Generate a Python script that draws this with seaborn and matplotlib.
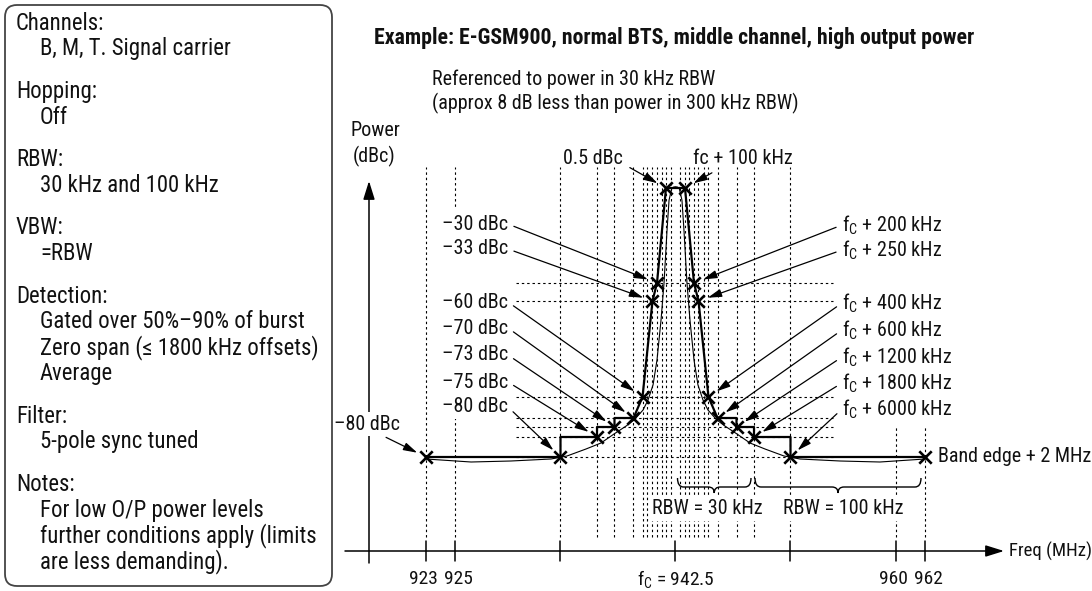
import numpy as np
import pandas as pd
import matplotlib
matplotlib.use("Agg")
import matplotlib.pyplot as plt
import seaborn as sns
from matplotlib import font_manager
from matplotlib.patches import FancyBboxPatch, PathPatch, Rectangle
from matplotlib.path import Path
from matplotlib.transforms import IdentityTransform

sns.set_theme(style="white")
_names = {f.name for f in font_manager.fontManager.ttflist}
FONT = "Liberation Sans"
for cand in ["Roboto Condensed", "Liberation Sans Narrow", "Roboto"]:
    if cand in _names:
        FONT = cand
        break
plt.rcParams["font.family"] = [FONT, "DejaVu Sans"]
plt.rcParams["mathtext.fontset"] = "custom"
plt.rcParams["mathtext.rm"] = FONT
plt.rcParams["mathtext.it"] = FONT
plt.rcParams["text.color"] = "#111111"

W, H = 1092, 591
FC = 942.5  # MHz, middle channel

# limit mask: offset from fc (kHz) and level (dBc)
MASK_KHZ = [-19500, -6000, -6000, -1800, -1800, -1200, -1200, -600, -400, -250, -200, -100,
            100, 200, 250, 400, 600, 1200, 1200, 1800, 1800, 6000, 6000, 19500]
MASK_DBC = [-80, -80, -75, -75, -73, -73, -70, -70, -60, -33, -30, 0.5,
            0.5, -30, -33, -60, -70, -70, -73, -73, -75, -75, -80, -80]

# measurement points (crosses)
MARK_KHZ = [-19500, -6000, -1800, -1200, -600, -400, -250, -200, -100,
            100, 200, 250, 400, 600, 1200, 1800, 6000, 19500]
MARK_DBC = [-80, -80, -75, -73, -70, -60, -33, -30, 0.5,
            0.5, -30, -33, -60, -70, -73, -75, -80, -80]

# typical spectrum, one side of the carrier
SPEC_KHZ = [0, 20, 40, 68, 89, 122, 155, 200, 244, 317, 392, 589, 837, 1217, 1663,
            3066, 5252, 7036, 11400, 15750, 19500]
SPEC_DBC = [0.9, 0.8, 0.3, -3.4, -13, -30, -38.3, -49.6, -56.6, -61.4, -66.2, -70.7,
            -72.7, -74.4, -76.5, -78, -79.75, -80.5, -81, -81.25, -80.5]

LEFT_LABELS = ["–30 dBc", "–33 dBc", "–60 dBc", "–70 dBc", "–73 dBc", "–75 dBc", "–80 dBc"]
LEFT_KHZ = [-200, -250, -400, -600, -1200, -1800, -6000]
LEFT_DBC = [-30, -33, -60, -70, -73, -75, -80]
RIGHT_KHZ = [200, 250, 400, 600, 1200, 1800, 6000]
RIGHT_DBC = [-30, -33, -60, -70, -73, -75, -80]
RIGHT_LABELS = [r"$\mathregular{f_C}$ + %d kHz" % k for k in RIGHT_KHZ]

GUIDE_KHZ = [50, 100, 150, 200, 250, 325, 400, 600, 1200, 1800, 6000]
LEVELS = [-30, -33, -60, -70, -73, -75, -80]
TICK_MHZ = [923, 925, 936.5, 942.5, 948.5, 960, 962]
TICK_LABELS = ["923", "925", "", r"$\mathregular{f_C}$ = 942.5", "", "960", "962"]

BOX_LINES = [("Channels:", True), ("B, M, T. Signal carrier", False),
             ("Hopping:", True), ("Off", False),
             ("RBW:", True), ("30 kHz and 100 kHz", False),
             ("VBW:", True), ("=RBW", False),
             ("Detection:", True), ("Gated over 50%–90% of burst", False),
             ("Zero span (≤ 1800 kHz offsets)", False), ("Average", False),
             ("Filter:", True), ("5-pole sync tuned", False),
             ("Notes:", True), ("For low O/P power levels", False),
             ("further conditions apply (limits", False), ("are less demanding).", False)]

# schematic (non-linear) axes: frequency offset -> pixel, dBc -> pixel
OFF_ANCHOR = np.array([0, 100, 200, 250, 400, 600, 1200, 1800, 6000, 17500, 19500, 60000])
PX_ANCHOR = np.array([0, 9.5, 18.5, 23, 33, 42, 61, 78.5, 115, 220.5, 249.5, 836.75])
CX = 675.5
DB_ANCHOR = np.array([-130, -80, -75, -73, -70, -60, -33, -30, 0.5, 70])
PY_ANCHOR = np.array([657, 457, 437, 427, 418, 397, 301, 283, 188, -28])


def fwd_x(f):
    off = (np.asarray(f, float) - FC) * 1000
    return CX + np.sign(off) * np.interp(np.abs(off), OFF_ANCHOR, PX_ANCHOR)


def inv_x(p):
    d = np.asarray(p, float) - CX
    return FC + np.sign(d) * np.interp(np.abs(d), PX_ANCHOR, OFF_ANCHOR) / 1000


def fwd_y(d):
    return -np.interp(np.asarray(d, float), DB_ANCHOR, PY_ANCHOR)


def inv_y(t):
    return np.interp(-np.asarray(t, float), PY_ANCHOR[::-1], DB_ANCHOR[::-1])


def fig_xy(x, y):
    return (x / W, 1 - y / H)


FS = 14.5

fig = plt.figure(figsize=(W / 100, H / 100), dpi=100)
ax = fig.add_axes([0, 0, 1, 1])
ax.set_xscale("function", functions=(fwd_x, inv_x))
ax.set_yscale("function", functions=(fwd_y, inv_y))

mask = pd.DataFrame({"freq": FC + np.array(MASK_KHZ) / 1000, "dbc": MASK_DBC})
marks = pd.DataFrame({"freq": FC + np.array(MARK_KHZ) / 1000, "dbc": MARK_DBC})
spec_k = np.array(SPEC_KHZ)
spec = pd.DataFrame({"freq": FC + np.concatenate([-spec_k[::-1], spec_k[1:]]) / 1000,
                     "dbc": np.concatenate([SPEC_DBC[::-1], SPEC_DBC[1:]])})

sns.lineplot(data=spec, x="freq", y="dbc", ax=ax, color="black", lw=0.8,
             sort=False, estimator=None, zorder=3)
sns.lineplot(data=mask, x="freq", y="dbc", ax=ax, color="black", lw=1.6,
             sort=False, estimator=None, zorder=3)
sns.scatterplot(data=marks, x="freq", y="dbc", ax=ax, marker="x", s=80,
                color="black", linewidth=1.9, zorder=4)

ax.set_xlim(inv_x(0), inv_x(W))
ax.set_ylim(inv_y(-H), inv_y(0))
ax.axis("off")

dot = dict(color="black", lw=0.8, ls=(0, (2.2, 2.6)), zorder=1)
for k in GUIDE_KHZ:
    for s in (-1, 1):
        ax.axvline(FC + s * k / 1000, ymin=1 - 537 / H, ymax=1 - 167 / H, **dot)
for f in TICK_MHZ[:2]:
    ax.axvline(f, ymin=1 - 537 / H, ymax=1 - 167 / H, **dot)
for f in TICK_MHZ[-2:]:
    ax.axvline(f, ymin=1 - 537 / H, ymax=1 - 425 / H, **dot)
for lv in LEVELS:
    ax.axhline(lv, xmin=516 / W, xmax=833 / W, **dot)

# white backing behind the left label column
ax.add_patch(Rectangle((440, H - 418), 73, 210, fc="white", ec="none",
                       transform=IdentityTransform(), zorder=2))

# axes arrows and ticks
axis_arrow = dict(arrowstyle="-|>,head_length=0.8,head_width=0.25", color="black",
                  lw=1.1, shrinkA=0, shrinkB=0, mutation_scale=14)
ax.annotate("", xy=fig_xy(1004, 551), xytext=fig_xy(345, 551), xycoords="figure fraction",
            textcoords="figure fraction", arrowprops=axis_arrow, zorder=2)
ax.annotate("", xy=fig_xy(369, 181), xytext=fig_xy(369, 563), xycoords="figure fraction",
            textcoords="figure fraction", arrowprops=axis_arrow, zorder=2)
tick_nudge = [-3, 3, 0, 0, 0, -3, 3]
for f, lab, dx in zip(TICK_MHZ, TICK_LABELS, tick_nudge):
    ax.axvline(f, ymin=1 - 561 / H, ymax=1 - 541 / H, color="black", lw=1.1)
    ax.annotate(lab, xy=(f, 1 - 579 / H), xycoords=ax.get_xaxis_transform(),
                xytext=(dx, 0), textcoords="offset pixels", ha="center", va="center",
                fontsize=14)
ax.text(*fig_xy(1009, 551), "Freq (MHz)", transform=fig.transFigure, ha="left",
        va="center", fontsize=13.5)
ax.text(*fig_xy(351, 130), "Power", transform=fig.transFigure, ha="left", va="center", fontsize=FS)
ax.text(*fig_xy(353, 156), "(dBc)", transform=fig.transFigure, ha="left", va="center", fontsize=FS)

# titles
ax.text(*fig_xy(374, 38), "Example: E-GSM900, normal BTS, middle channel, high output power",
        transform=fig.transFigure, ha="left", va="center", fontsize=15.7, fontweight="bold")
ax.text(*fig_xy(432, 79), "Referenced to power in 30 kHz RBW", transform=fig.transFigure,
        ha="left", va="center", fontsize=FS)
ax.text(*fig_xy(432, 103), "(approx 8 dB less than power in 300 kHz RBW)",
        transform=fig.transFigure, ha="left", va="center", fontsize=FS)

# callouts
arrow = dict(arrowstyle="-|>,head_length=0.7,head_width=0.2", color="black", lw=0.9,
             shrinkA=3, shrinkB=7, mutation_scale=12)
wbox = dict(boxstyle="square,pad=0.1", fc="white", ec="none")
left_y = [224, 249, 302, 328, 355, 382, 407]
for lab, k, d, y in zip(LEFT_LABELS, LEFT_KHZ, LEFT_DBC, left_y):
    ax.annotate(lab, xy=(FC + k / 1000, d), xytext=fig_xy(508, y), textcoords="figure fraction",
                ha="right", va="center", fontsize=FS, bbox=wbox, zorder=6,
                arrowprops=dict(arrow, relpos=(1, 0.5)))
right_y = [225, 250, 303, 330, 357, 383, 409]
for lab, k, d, y in zip(RIGHT_LABELS, RIGHT_KHZ, RIGHT_DBC, right_y):
    ax.annotate(lab, xy=(FC + k / 1000, d), xytext=fig_xy(842, y), textcoords="figure fraction",
                ha="left", va="center", fontsize=FS, bbox=wbox, zorder=6,
                arrowprops=dict(arrow, relpos=(0, 0.5)))
ax.annotate("0.5 dBc", xy=(FC + MARK_KHZ[8] / 1000, MARK_DBC[8]), xytext=fig_xy(593, 158),
            textcoords="figure fraction", ha="center", va="center", fontsize=FS, zorder=6,
            arrowprops=dict(arrow, relpos=(1, 0.2)))
ax.annotate("fc + 100 kHz", xy=(FC + MARK_KHZ[9] / 1000, MARK_DBC[9]), xytext=fig_xy(743, 158),
            textcoords="figure fraction", ha="center", va="center", fontsize=FS, zorder=6,
            arrowprops=dict(arrow, relpos=(0.3, 0.05)))
ax.annotate("–80 dBc", xy=(FC + MARK_KHZ[0] / 1000, MARK_DBC[0]), xytext=fig_xy(400, 424),
            textcoords="figure fraction", ha="right", va="center", fontsize=FS, bbox=wbox,
            zorder=6, arrowprops=dict(arrow, relpos=(0.67, 0)))
ax.text(*fig_xy(938, 456), "Band edge + 2 MHz", transform=fig.transFigure, ha="left",
        va="center", fontsize=FS)


# RBW braces
def brace(f0, f1, pad0, pad1, y_tip=478, y_line=487, y_point=493, r=6):
    x0 = ax.transData.transform((f0, -80))[0] + pad0
    x1 = ax.transData.transform((f1, -80))[0] - pad1
    xm = (x0 + x1) / 2
    pts = [(x0, y_tip), (x0, y_line), (x0 + r, y_line), (xm - r, y_line),
           (xm, y_line), (xm, y_point), (xm, y_line), (xm + r, y_line),
           (x1 - r, y_line), (x1, y_line), (x1, y_tip)]
    codes = [Path.MOVETO, Path.CURVE3, Path.CURVE3, Path.LINETO, Path.CURVE3, Path.CURVE3,
             Path.CURVE3, Path.CURVE3, Path.LINETO, Path.CURVE3, Path.CURVE3]
    fig.add_artist(PathPatch(Path([(x, H - y) for x, y in pts], codes), fill=False,
                             lw=1.0, ec="black", transform=IdentityTransform(), zorder=4))


brace(FC, FC + 1.8, 2, 3)
brace(FC + 1.8, 962, 1, 4)
ax.text(*fig_xy(707, 509), "RBW = 30 kHz", transform=fig.transFigure, ha="center",
        va="center", fontsize=FS, bbox=wbox, zorder=6)
ax.text(*fig_xy(843, 509), "RBW = 100 kHz", transform=fig.transFigure, ha="center",
        va="center", fontsize=FS, bbox=wbox, zorder=6)

# settings box on the left
fig.add_artist(FancyBboxPatch((5, H - 586), 327, 581, boxstyle="round,pad=0,rounding_size=12",
                              fill=False, ec="#444444", lw=1.3, transform=IdentityTransform()))
y = 23
for i, (txt, head) in enumerate(BOX_LINES):
    if i > 0:
        y += 42.5 if head else 25.8
    fig.text((16 if head else 40) / W, 1 - y / H, txt, ha="left", va="center", fontsize=16.4)

fig.savefig("out.png", dpi=100)
